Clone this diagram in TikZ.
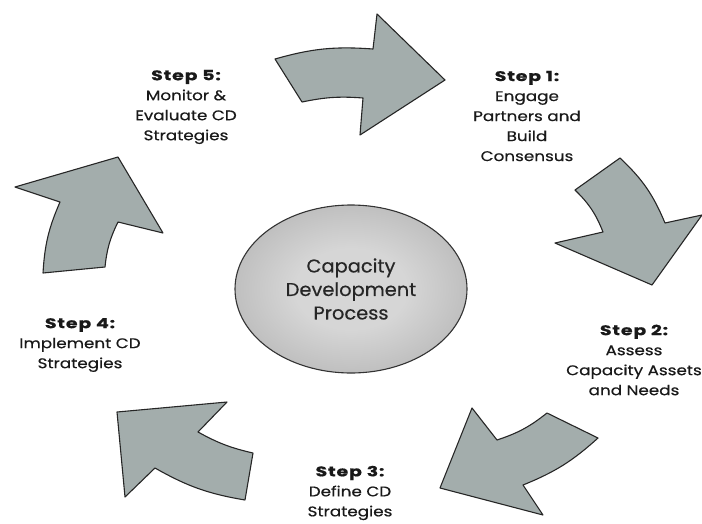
\documentclass[tikz,border=0pt]{standalone}
\usepackage{fontspec}
\setmainfont{Poppins}
% wide, heavy faces for the captions
\newfontfamily\bodyfont{Poppins}[FakeStretch=1.2, FakeBold=0.5]
\newfontfamily\headfont{Poppins}[FakeStretch=1.35, LetterSpace=6, FakeBold=0.8]
\newfontfamily\hubfont{Poppins}[FakeStretch=1.05, FakeBold=0.4]
\usetikzlibrary{shapes.geometric}

\definecolor{arrowfill}{RGB}{163,173,172}
\definecolor{ellin}{RGB}{214,214,214}
\definecolor{ellout}{RGB}{148,148,148}
\pgfdeclareradialshading{ellshade}{\pgfpoint{0bp}{0bp}}{%
  color(0bp)=(ellin); color(12bp)=(ellin); color(50bp)=(ellout)}

\newcommand\stephead[1]{{\headfont\bfseries #1}}

\tikzset{
  cyclearrow/.style={draw=black!85, line width=1.1pt, fill=arrowfill, line join=round},
  steplabel/.style={align=center, font=\bodyfont\fontsize{14}{20}\selectfont, text=black!90},
  hub/.style={ellipse, draw=black!80, line width=1.1pt, shading=ellshade,
    minimum width=232pt, minimum height=168pt, align=center,
    font=\hubfont\fontsize{18.5}{23.5}\selectfont, text=black!85, inner sep=0pt},
}

\begin{document}
\begin{tikzpicture}[x=1pt, y=-1pt]
  \useasboundingbox (0,0) rectangle (702,523);

  % centre of the cycle
  \node[hub] (hub) at (351,289) {Capacity\\Development\\Process};

  % step labels
  \node[steplabel] (s5) at (186,107) {\stephead{Step 5:}\\Monitor \&\\Evaluate CD\\Strategies};
  \node[steplabel] (s1) at (527,116) {\stephead{Step 1:}\\Engage\\Partners and\\Build\\Consensus};
  \node[steplabel] (s2) at (634,360) {\stephead{Step 2:}\\Assess\\Capacity Assets\\and Needs};
  \node[steplabel] (s3) at (350,493) {\stephead{Step 3:}\\Define CD\\Strategies};
  \node[steplabel] (s4) at (80,345) {\stephead{Step 4:}\\Implement CD\\Strategies};

  % curved block arrows around the hub
  % step 5 -> step 1
  \draw[cyclearrow] (275,59) to[bend left=10] (373,49) -- (377,14) -- (445,80)
    -- (360,135) -- (363,98) to[bend right=8] (302,102) -- cycle;
  % step 1 -> step 2
  \draw[cyclearrow] (620,158) -- (575,190) to[bend left=12] (603,232) -- (555,243)
    -- (652,285) -- (702,215) -- (665,223) to[bend right=12] cycle;
  % step 2 -> step 3
  \draw[cyclearrow] (598,438) -- (547,413) to[bend left=10] (497,440) -- (472,408)
    -- (440,488) -- (543,515) -- (523,485) to[bend right=10] cycle;
  % step 3 -> step 4
  \draw[cyclearrow] (253,453) -- (245,500) to[bend left=10] (155,468) -- (125,497)
    -- (117,412) -- (227,402) -- (198,432) to[bend right=8] cycle;
  % step 4 -> step 5
  \draw[cyclearrow] (43,273) -- (105,267) to[bend left=10] (118,222) -- (163,233)
    -- (118,157) -- (15,187) -- (60,202) to[bend right=10] cycle;
\end{tikzpicture}
\end{document}
